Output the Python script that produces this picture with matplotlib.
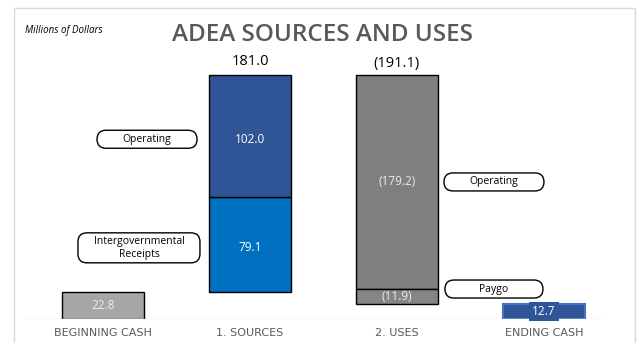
import matplotlib
matplotlib.use('Agg')
import matplotlib.pyplot as plt
import matplotlib.transforms as mtransforms
from matplotlib.patches import FancyBboxPatch, Rectangle

# data (millions of dollars)
categories = ['BEGINNING CASH', '1. SOURCES', '2. USES', 'ENDING CASH']
beginning_cash = 22.8
source_names = ['Intergovernmental\nReceipts', 'Operating']
source_values = [79.1, 102.0]
source_total = 181.0
use_names = ['Operating', 'Paygo']
use_values = [179.2, 11.9]
use_total = 191.1
ending_cash = 12.7

source_colors = ['#0070C0', '#2F5597']
use_colors = ['#7F7F7F', '#858585']

fig = plt.figure(figsize=(6.42, 3.43), dpi=100)
ax = fig.add_axes([24 / 642, 24 / 343, 578 / 642, 259 / 343])
ax.set_xlim(-0.537, 3.395)
ax.set_ylim(0, 216)
ax.axis('off')

w = 0.56
light = '#EDEDED'

# beginning cash
ax.bar(0, beginning_cash, width=w, color='#A6A6A6', edgecolor='black', linewidth=1)
ax.text(0, beginning_cash / 2, f'{beginning_cash:.1f}', ha='center', va='center',
        color=light, fontsize=8.5, family='Open Sans')

# sources, stacked on top of beginning cash
callouts = []
bottom = beginning_cash
for name, val, col in zip(source_names, source_values, source_colors):
    ax.bar(1, val, bottom=bottom, width=w, color=col, edgecolor='black', linewidth=1)
    ax.text(1, bottom + val / 2 - 3, f'{val:.1f}', ha='center', va='center',
            color='white', fontsize=8.5, family='Open Sans')
    callouts.append((name, 0.3, bottom + val / 2 - 3))
    bottom += val
top = bottom
ax.text(1, top + 5, f'{source_total:.1f}', ha='center', va='bottom',
        fontsize=10.5, family='Open Sans')

# uses, going down from the top
level = top
for name, val, col in zip(use_names, use_values, use_colors):
    ax.bar(2, -val, bottom=level, width=w, color=col, edgecolor='black', linewidth=1)
    ax.text(2, level - val / 2, f'({val:.1f})', ha='center', va='center',
            color=light, fontsize=8.5, family='Open Sans')
    callouts.append((name, 2.66, max(level - val / 2, 25)))
    level -= val
ax.text(2, top + 3, f'({use_total:.1f})', ha='center', va='bottom',
        fontsize=10.5, family='Open Sans')

# ending cash
ax.bar(3, ending_cash, width=w, color='#2F5597', edgecolor='#4472C4', linewidth=1.5)
ax.text(3, ending_cash / 2, f'{ending_cash:.1f}', ha='center', va='center',
        color='white', fontsize=8.5, family='Open Sans',
        bbox=dict(boxstyle='square,pad=0.25', fc='#2F5597', ec='none'))

# baseline and category labels
ax.axhline(0, color='#D9D9D9', linewidth=1)
for i, c in enumerate(categories):
    ax.text(i, -12, c, ha='center', va='center', fontsize=8, color='#595959')

# callout bubbles
box_w = {'Operating': 100, 'Paygo': 98, 'Intergovernmental\nReceipts': 122}
fig.canvas.draw()
for name, x, y in callouts:
    if name.startswith('Inter'):
        x = 0.245
    px, py = ax.transData.transform((x, y))
    bw = box_w[name]
    bh = 30 if '\n' in name else 18
    bub = FancyBboxPatch((px - bw / 2, py - bh / 2), bw, bh,
                         boxstyle='round,pad=0,rounding_size=9',
                         fc='white', ec='black', lw=1, zorder=4,
                         transform=mtransforms.IdentityTransform(), clip_on=False)
    ax.add_artist(bub)
    ax.text(x, y, name, ha='center', va='center', fontsize=7.5,
            family='Open Sans', linespacing=1.2, zorder=5)

# outer frame, titles
fig.patches.append(Rectangle((14 / 642, -0.01), 621 / 642, 335 / 343 + 0.01,
                             transform=fig.transFigure, fill=False,
                             ec='#D9D9D9', lw=1, figure=fig))
fig.text(25 / 642, 1 - 30 / 343, 'Millions of Dollars', fontsize=7, style='italic',
         va='center', family='Open Sans')
fig.text(323 / 642, 1 - 35 / 343, 'ADEA SOURCES AND USES', fontsize=17.5,
         fontweight='semibold', color='#595959', ha='center', va='center',
         family='Open Sans')

fig.savefig('out.png', dpi=100)
